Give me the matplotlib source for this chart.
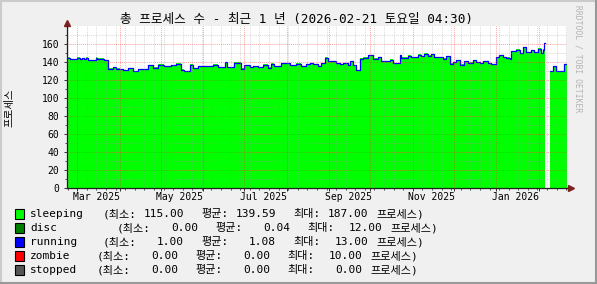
import datetime as dt
import numpy as np
import matplotlib
matplotlib.use("Agg")
import matplotlib.pyplot as plt
from matplotlib.patches import Rectangle
from matplotlib.lines import Line2D

# time span: one year ending 2026-02-21 04:30
start = dt.datetime(2025, 2, 21, 4, 30)
span_days = 365

# step series: day offset where a level starts, sleeping count
seg_day = [0, 2.2, 7.8, 9.5, 11.2, 12.6, 14.4, 15.6, 21.2, 22.4, 27.7, 30.2, 33.8, 36.3,
           38.7, 41.1, 44.8, 48.4, 52.1, 59.4, 63.0, 66.7, 71.5, 76.4, 80.0, 83.7, 86.1,
           89.8, 92.2, 95.8, 106.8, 110.4, 115.8, 116.8, 122.6, 127.5, 129.9, 133.6, 136.0,
           139.6, 143.3, 147.0, 149.4, 151.8, 156.7, 162.8, 167.6, 171.3, 175.0, 177.4,
           179.8, 183.5, 185.9, 189.0, 190.8, 196.8, 199.3, 201.7, 205.3, 207.3, 209.0,
           211.4, 213.9, 216.3, 220.0, 223.6, 227.2, 229.7, 235.8, 238.2, 243.1, 244.3,
           249.1, 251.6, 256.4, 258.9, 261.3, 263.7, 266.2, 268.6, 274.7, 277.1, 279.6,
           282.0, 284.4, 286.9, 290.5, 292.9, 296.6, 299.0, 301.5, 303.9, 307.5, 310.0,
           313.6, 316.0, 318.5, 320.9, 323.4, 324.6, 328.2, 330.7, 333.1, 335.5, 339.2,
           341.6, 344.0, 346.5, 347.7, 348.9, 349.6, 352.6, 355.0, 357.4, 363.5]
sleeping = [144.6, 142.7, 144.6, 142.7, 144.0, 143.0, 144.6, 141.6, 144.6, 143.4, 141.6,
            132.3, 134.2, 132.3, 131.6, 130.5, 133.1, 129.7, 132.0, 136.0, 133.4, 136.8,
            134.9, 136.0, 137.9, 131.2, 129.7, 136.8, 133.1, 135.3, 136.8, 134.2, 139.7,
            134.2, 139.0, 132.3, 136.0, 134.2, 135.3, 134.2, 136.8, 133.4, 137.9, 134.9,
            138.6, 136.0, 137.9, 134.9, 137.1, 138.6, 137.1, 134.9, 138.6, 144.6, 140.9,
            138.6, 137.1, 138.6, 136.0, 140.9, 136.0, 130.5, 143.4, 144.6, 147.1, 143.4,
            145.3, 140.9, 142.3, 138.2, 147.1, 144.6, 146.8, 145.3, 147.9, 146.0, 149.0,
            146.8, 148.3, 145.3, 143.4, 146.0, 137.9, 139.7, 141.6, 136.8, 140.9, 139.0,
            141.6, 139.7, 138.6, 140.9, 138.6, 137.1, 145.3, 147.1, 145.3, 144.6, 143.4,
            152.0, 153.4, 149.7, 156.4, 150.9, 152.7, 150.9, 154.6, 149.7, 153.4, 160.9,
            np.nan, 129.7, 135.3, 129.7, 137.1]

# legend statistics
names = ["sleeping", "disc", "running", "zombie", "stopped"]
colors = ["#00ff00", "#008000", "#0000ff", "#ff0000", "#555555"]
min_vals = [115.00, 0.00, 1.00, 0.00, 0.00]
avg_vals = [139.59, 0.04, 1.08, 0.00, 0.00]
max_vals = [187.00, 12.00, 13.00, 10.00, 0.00]

W, H = 597, 284
MONO = ["DejaVu Sans Mono", "Noto Sans CJK KR"]


def fx(x):
    return x / W


def fy(y):
    return 1 - y / H


def day_of(d):
    return (d - start).total_seconds() / 86400.0


fig = plt.figure(figsize=(W / 100, H / 100), dpi=100, facecolor="#f0f0f0")

# plot area in pixel terms: left 66.5, right 566.5, top 26.3, bottom 188.3
ax = fig.add_axes([fx(66.5), fy(188.3), fx(500), 162 / H])
ax.set_facecolor("white")

edges = np.array(seg_day + [span_days], dtype=float)
vals = np.array(sleeping, dtype=float)

# split into runs without gaps, draw stacked steps
runs = []
cur = []
for i, v in enumerate(vals):
    if np.isnan(v):
        if cur:
            runs.append(cur)
        cur = []
    else:
        cur.append(i)
if cur:
    runs.append(cur)

for r in runs:
    xs = np.append(edges[r], edges[r[-1] + 1])
    ys = np.append(vals[r], vals[r[-1]])
    top = ys + avg_vals[2]
    ax.fill_between(xs, 0, top, step="post", color=colors[0], linewidth=0, zorder=1)
    ax.step(xs, top - avg_vals[2] / 2, where="post", color=colors[2], lw=0.9, zorder=1.5)

ax.set_xlim(0, span_days)
ax.set_ylim(0, 180)

# grid: month lines red, weekly grey; y every 20 red, every 10 grey
month_ticks = []
d = dt.datetime(2025, 3, 1)
while d < start + dt.timedelta(days=span_days):
    month_ticks.append(day_of(d))
    d = dt.datetime(d.year + (d.month // 12), d.month % 12 + 1, 1)
week_ticks = []
d = dt.datetime(2025, 2, 22)
while d < start + dt.timedelta(days=span_days):
    week_ticks.append(day_of(d))
    d += dt.timedelta(days=7)

ax.set_xticks(month_ticks)
ax.set_xticks(week_ticks, minor=True)
ax.set_xticklabels([])
ax.set_yticks(range(0, 161, 20))
ax.set_yticks(range(0, 180, 10), minor=True)
ax.set_yticklabels([str(v) for v in range(0, 161, 20)], family="DejaVu Sans Mono", fontsize=7)

ax.grid(which="major", color="#ff3030", alpha=0.45, linestyle=(0, (1, 1)), linewidth=0.7)
ax.grid(which="minor", color="#909090", alpha=0.35, linestyle=(0, (1, 1)), linewidth=0.7)
ax.set_axisbelow(False)

for s in ["top", "right"]:
    ax.spines[s].set_visible(False)
for s in ["left", "bottom"]:
    ax.spines[s].set_color("#202020")
    ax.spines[s].set_linewidth(0.9)
ax.tick_params(which="major", length=2.5, width=0.7, pad=2.5, color="#303030")
ax.tick_params(which="minor", length=1.5, width=0.6, color="#303030")

# axis arrows
ax.plot([0, 0], [180, 183], color="#202020", lw=0.9, clip_on=False)
ax.plot([0], [183.5], marker="^", ms=4, color="#7f1f1f", clip_on=False)
ax.plot([span_days, span_days + 3.2], [0, 0], color="#202020", lw=0.9, clip_on=False)
ax.plot([span_days + 3.5], [0], marker=">", ms=4, color="#7f1f1f", clip_on=False)

# month labels on the 15th of every second month
for y, m in [(2025, 3), (2025, 5), (2025, 7), (2025, 9), (2025, 11), (2026, 1)]:
    lab = dt.datetime(y, m, 15)
    ax.text(day_of(lab), -10, lab.strftime("%b %Y"), ha="center", va="center",
            family="DejaVu Sans Mono", fontsize=7, clip_on=False)

fig.text(fx(297), fy(19.5), "총 프로세스 수 - 최근 1 년 (2026-02-21 토요일 04:30)",
         ha="center", va="center", family=MONO, fontsize=9.1)
fig.text(fx(10), fy(107.5), "프로세스", rotation=90, ha="center", va="center",
         family=MONO, fontsize=7.5)
fig.text(fx(578), fy(59), "RRDTOOL / TOBI OETIKER", rotation=270, ha="center", va="center",
         family="DejaVu Sans Mono", fontsize=5.8, color="#b4b4b4")

# legend rows
row_y = [214, 228, 242, 256, 270]
row_start = [103, 117, 103, 97, 97]
for i in range(len(names)):
    y = row_y[i]
    s = row_start[i]
    fig.patches.append(Rectangle((fx(15), fy(y + 5)), fx(9), 10 / H, transform=fig.transFigure,
                                 facecolor=colors[i], edgecolor="black", linewidth=0.8))
    kw = dict(va="center", family=MONO, fontsize=8)
    fig.text(fx(30), fy(y), names[i], ha="left", **kw)
    fig.text(fx(s), fy(y), "(최소:", ha="left", **kw)
    fig.text(fx(s + 81), fy(y), f"{min_vals[i]:.2f}", ha="right", **kw)
    fig.text(fx(s + 98), fy(y), "평균:", ha="left", **kw)
    fig.text(fx(s + 173), fy(y), f"{avg_vals[i]:.2f}", ha="right", **kw)
    fig.text(fx(s + 190), fy(y), "최대:", ha="left", **kw)
    fig.text(fx(s + 265), fy(y), f"{max_vals[i]:.2f}", ha="right", **kw)
    fig.text(fx(s + 273), fy(y), "프로세스)", ha="left", **kw)

# 3d-ish outer frame
fig.add_artist(Line2D([0, 1], [fy(1), fy(1)], color="#cbcbcb", lw=1.5))
fig.add_artist(Line2D([fx(1), fx(1)], [0, 1], color="#cbcbcb", lw=1.5))
fig.add_artist(Line2D([0, 1], [fy(283), fy(283)], color="#999999", lw=1.5))
fig.add_artist(Line2D([fx(596), fx(596)], [0, 1], color="#999999", lw=1.5))

fig.savefig("out.png", dpi=100, facecolor=fig.get_facecolor())
